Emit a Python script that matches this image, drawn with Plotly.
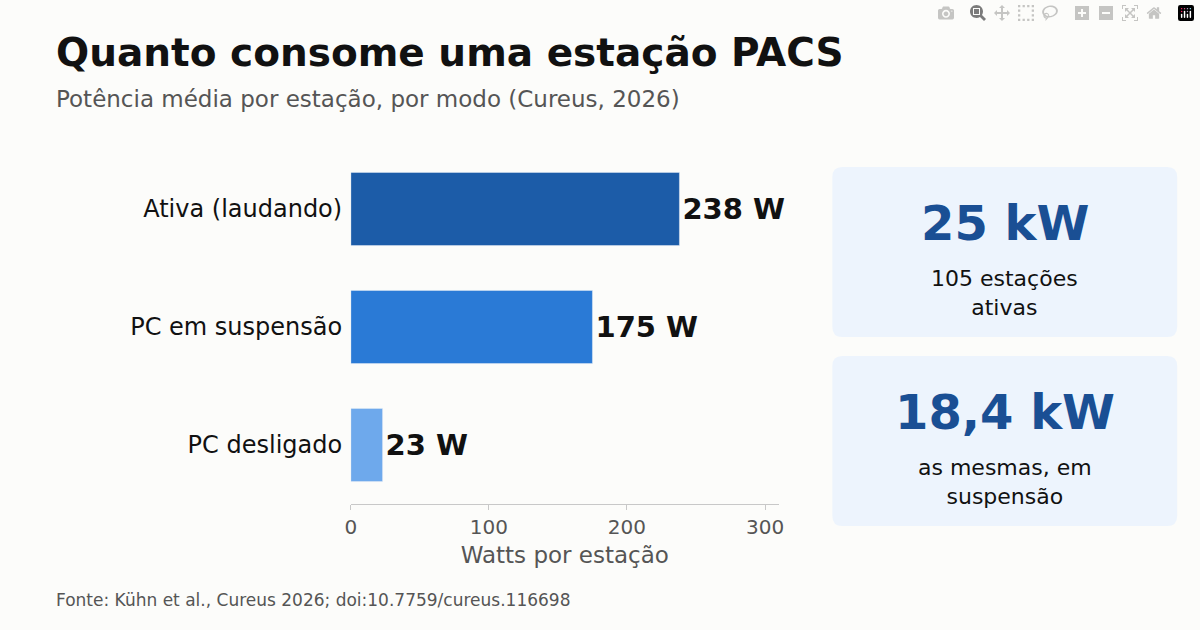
import plotly.graph_objects as go

modos = ["Ativa (laudando)", "PC em suspensão", "PC desligado"]
watts = [238, 175, 23]
cores = ["#1c5ca8", "#2a7ad6", "#6ea9ec"]
card_valores = ["25 kW", "18,4 kW"]
card_textos = ["105 estações<br>ativas", "as mesmas, em<br>suspensão"]

fnt = "DejaVu Sans"
W, H = 1200, 630

fig = go.Figure(go.Bar(
    x=watts, y=modos, orientation="h", marker_color=cores, width=0.62,
    text=[f"<b>{v} W</b>" for v in watts], textposition="outside",
    textfont=dict(size=29, color="#111", family=fnt), cliponaxis=False,
))


def rounded(x0, y0, x1, y1, r=10):
    # pixel coords -> paper coords path with rounded corners
    px = lambda x: x / W
    py = lambda y: 1 - y / H
    return (f"M{px(x0+r)},{py(y0)} L{px(x1-r)},{py(y0)} Q{px(x1)},{py(y0)} {px(x1)},{py(y0+r)} "
            f"L{px(x1)},{py(y1-r)} Q{px(x1)},{py(y1)} {px(x1-r)},{py(y1)} "
            f"L{px(x0+r)},{py(y1)} Q{px(x0)},{py(y1)} {px(x0)},{py(y1-r)} "
            f"L{px(x0)},{py(y0+r)} Q{px(x0)},{py(y0)} {px(x0+r)},{py(y0)} Z")


shapes = []
annotations = [
    dict(text="<b>Quanto consome uma estação PACS</b>", x=48/W, y=1-52/H, xref="paper", yref="paper",
         xanchor="left", yanchor="middle", showarrow=False, font=dict(size=39, color="#111", family=fnt)),
    dict(text="Potência média por estação, por modo (Cureus, 2026)", x=48/W, y=1-99/H, xref="paper",
         yref="paper", xanchor="left", yanchor="middle", showarrow=False,
         font=dict(size=23, color="#555", family=fnt)),
    dict(text="Fonte: Kühn et al., Cureus 2026; doi:10.7759/cureus.116698", x=48/W, y=1-600/H,
         xref="paper", yref="paper", xanchor="left", yanchor="middle", showarrow=False,
         font=dict(size=17, color="#555", family=fnt)),
]
for i, (val, txt) in enumerate(zip(card_valores, card_textos)):
    top = 167 + i * 189
    shapes.append(dict(type="path", path=rounded(834, top, 1182, top + 170), xref="paper", yref="paper",
                       fillcolor="#edf4fd", line=dict(width=0), layer="below"))
    annotations.append(dict(text=f"<b>{val}</b>", x=1008/W, y=1-(top + 56)/H, xref="paper", yref="paper",
                            xanchor="center", yanchor="middle", showarrow=False,
                            font=dict(size=48, color="#1a4f94", family=fnt)))
    annotations.append(dict(text=txt, x=1008/W, y=1-(top + 126)/H, xref="paper", yref="paper",
                            xanchor="center", yanchor="middle", showarrow=False,
                            font=dict(size=22, color="#111", family=fnt)))

fig.update_layout(
    width=W, height=H, margin=dict(l=0, r=0, t=0, b=0),
    paper_bgcolor="#fcfcfa", plot_bgcolor="#fcfcfa", showlegend=False,
    shapes=shapes, annotations=annotations,
    xaxis=dict(domain=[348/W, 780/W], range=[0, 310], tickvals=[0, 100, 200, 300],
               showgrid=False, zeroline=False, showline=True, linecolor="#c8c8c8",
               ticks="outside", ticklen=5, tickcolor="#c8c8c8",
               tickfont=dict(size=20, color="#555", family=fnt),
               title=dict(text="Watts por estação", font=dict(size=23, color="#555", family=fnt), standoff=8)),
    yaxis=dict(domain=[1-504/H, 1-150/H], autorange="reversed", showgrid=False,
               tickfont=dict(size=24, color="#111", family=fnt), ticksuffix=" "),
)

fig.write_html("out.html", post_script="document.body.style.margin='0';document.body.style.background='#fcfcfa';")
